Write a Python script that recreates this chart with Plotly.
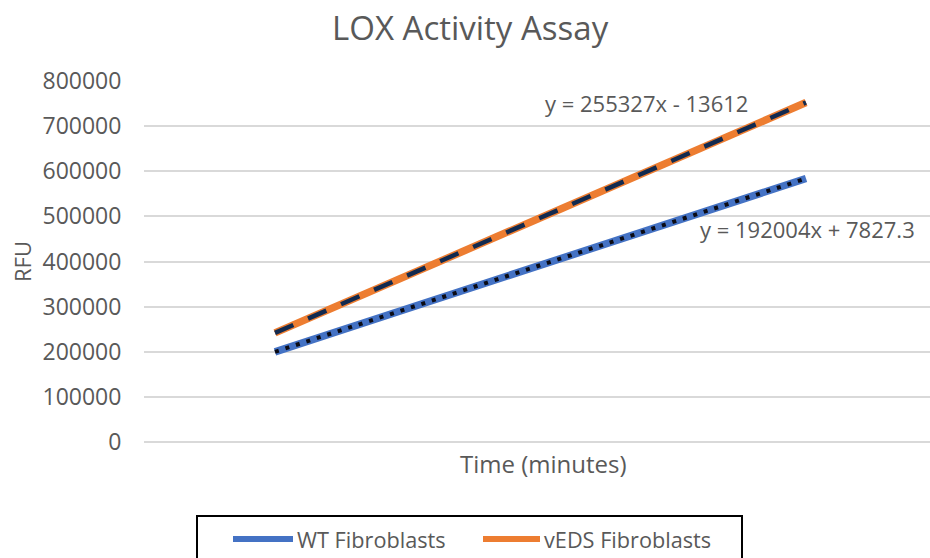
import numpy as np
import plotly.graph_objects as go

# ---- data ----
time_points = [1, 2, 3]
wt_values = [199831, 391835, 583839]
veds_values = [241715, 497042, 752369]
series_names = ["WT Fibroblasts", "vEDS Fibroblasts"]
equation_labels = ["y = 255327x - 13612", "y = 192004x + 7827.3"]
y_ticks = [0, 100000, 200000, 300000, 400000, 500000, 600000, 700000, 800000]

W, H = 930, 558
L, R, T, B = 144, 0, 81, 116
PW, PH = W - L - R, H - T - B

def px(x):
    return (x - L) / PW

def py(y):
    return (H - B - y) / PH

GRAY = "#595959"
FONT = "Open Sans"
BLUE = "#4472C4"
ORANGE = "#ED7D31"
NAVY = "#122A4F"

fig = go.Figure()

fig.add_trace(go.Scatter(x=time_points, y=wt_values, mode="lines", name=series_names[0],
                         line=dict(color=BLUE, width=7.5), showlegend=False))
fig.add_trace(go.Scatter(x=time_points, y=veds_values, mode="lines", name=series_names[1],
                         line=dict(color=ORANGE, width=7.5), showlegend=False))

# linear trendlines fitted from the data
xt = np.array([time_points[0], time_points[-1]], dtype=float)
m_v, b_v = np.polyfit(time_points, veds_values, 1)
m_w, b_w = np.polyfit(time_points, wt_values, 1)
fig.add_trace(go.Scatter(x=xt, y=m_v * xt + b_v, mode="lines", showlegend=False,
                         line=dict(color=NAVY, width=4.5, dash="20px,16px")))
fig.add_trace(go.Scatter(x=xt, y=m_w * xt + b_w, mode="lines", showlegend=False,
                         line=dict(color="#0b0b14", width=4, dash="4px,7px")))

ppu = 265.5
x0 = 1 - 131 / ppu
x1 = x0 + PW / ppu

fig.update_xaxes(range=[x0, x1], showticklabels=False, showgrid=False, zeroline=False,
                 showline=False, ticks="")
fig.update_yaxes(range=[0, 800000], tickvals=y_ticks, ticktext=[str(v) for v in y_ticks],
                 showgrid=True, gridcolor="#D9D9D9", gridwidth=1.5,
                 zeroline=True, zerolinecolor="#D9D9D9", zerolinewidth=1.5,
                 showline=False, ticks="outside", ticklen=17, tickcolor="rgba(0,0,0,0)",
                 tickfont=dict(family=FONT, size=23, color=GRAY))

ann = []
ann.append(dict(text="LOX Activity Assay", x=px(470), y=py(27), xref="paper", yref="paper",
                showarrow=False, xanchor="center", yanchor="middle",
                font=dict(family=FONT, size=33, color=GRAY)))
ann.append(dict(text="RFU", x=px(22), y=py(262), xref="paper", yref="paper", textangle=-90,
                showarrow=False, xanchor="center", yanchor="middle",
                font=dict(family=FONT, size=22, color=GRAY)))
ann.append(dict(text="Time (minutes)", x=px(543), y=py(463), xref="paper", yref="paper",
                showarrow=False, xanchor="center", yanchor="middle",
                font=dict(family=FONT, size=24, color=GRAY)))
ann.append(dict(text=equation_labels[0], x=px(543), y=py(103), xref="paper", yref="paper",
                showarrow=False, xanchor="left", yanchor="middle",
                font=dict(family=FONT, size=22, color=GRAY)))
ann.append(dict(text=equation_labels[1], x=px(698), y=py(229), xref="paper", yref="paper",
                showarrow=False, xanchor="left", yanchor="middle",
                font=dict(family=FONT, size=22, color=GRAY)))

# legend (manual, Excel-style box cut off at the bottom)
shapes = []
shapes.append(dict(type="rect", xref="paper", yref="paper", x0=px(197), x1=px(742),
                   y0=py(565), y1=py(516), line=dict(color="black", width=2), fillcolor="white",
                   layer="above"))
leg_y = 539
for (sx0, sx1, col, tx, name) in [(233, 293, BLUE, 295, series_names[0]),
                                  (483, 540, ORANGE, 542, series_names[1])]:
    shapes.append(dict(type="line", xref="paper", yref="paper", x0=px(sx0), x1=px(sx1),
                       y0=py(leg_y), y1=py(leg_y), line=dict(color=col, width=6), layer="above"))
    ann.append(dict(text=name, x=px(tx), y=py(leg_y), xref="paper", yref="paper",
                    showarrow=False, xanchor="left", yanchor="middle",
                    font=dict(family=FONT, size=21.7, color=GRAY)))

fig.update_layout(width=W, height=H, margin=dict(l=L, r=R, t=T, b=B),
                  paper_bgcolor="white", plot_bgcolor="white", showlegend=False,
                  annotations=ann, shapes=shapes)

fig.write_html("out.html")
